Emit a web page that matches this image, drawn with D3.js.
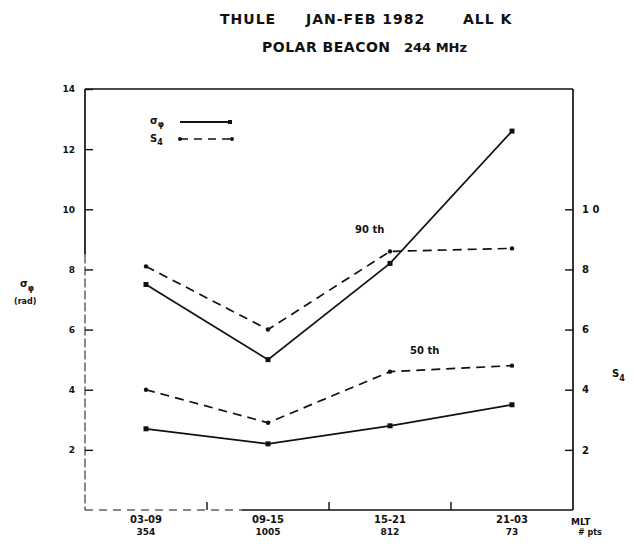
<!DOCTYPE html>
<html><head><meta charset="utf-8">
<script src="https://cdn.jsdelivr.net/npm/d3@7"></script>
<style>
body{margin:0;background:#fff;}
text{font-family:"DejaVu Sans",sans-serif;font-weight:bold;fill:#111;}
</style>
</head><body>
<svg id="c" width="634" height="550"></svg>
<script>
// ---- data ----
const categories = ["03-09","09-15","15-21","21-03"];
const pointCounts = ["354","1005","812","73"];
const sigmaPhi90 = [7.5, 5.0, 8.2, 12.6];
const s4_90 = [8.1, 6.0, 8.6, 8.7];
const s4_50 = [4.0, 2.9, 4.6, 4.8];
const sigmaPhi50 = [2.7, 2.2, 2.8, 3.5];
const leftTicks = [2, 4, 6, 8, 10, 12, 14];
const rightTicks = [2, 4, 6, 8, 10];

const svg = d3.select("#c");
const L = 85, R = 573, T = 89, B = 510;

const x = d3.scaleBand().domain(categories).range([L, R]);
const cx = c => x(c) + x.bandwidth() / 2;
const y = d3.scaleLinear().domain([0, 14]).range([B, T]);

// title
const title = (tx, px, py, fs, ls) => svg.append("text").attr("x", px).attr("y", py)
  .style("font-size", fs + "px").style("letter-spacing", ls + "px").text(tx);
title("THULE", 220, 24, 14, 1);
title("JAN-FEB 1982", 306, 24, 14, 1);
title("ALL K", 463, 24, 14, 1);
title("POLAR BEACON", 262, 52, 14, 0.5);
title("244 MHz", 404, 52, 13, 0);

// frame
const frame = svg.append("g").attr("fill", "none").attr("stroke", "#111").attr("stroke-width", 1.7);
frame.append("line").attr("x1", L).attr("x2", R).attr("y1", T).attr("y2", T);
frame.append("line").attr("x1", R).attr("x2", R).attr("y1", T).attr("y2", B);
frame.append("line").attr("x1", L).attr("x2", L).attr("y1", T).attr("y2", y(8.5));
frame.append("line").attr("x1", L).attr("x2", L).attr("y1", y(8.5)).attr("y2", B).attr("stroke-width", 1).attr("stroke-dasharray", "9,3");
frame.append("line").attr("x1", L).attr("x2", x(categories[1]) + 35).attr("y1", B).attr("y2", B).attr("stroke-width", 1).attr("stroke-dasharray", "8,6");
frame.append("line").attr("x1", x(categories[1]) + 35).attr("x2", R).attr("y1", B).attr("y2", B);

// left axis
const ga = svg.append("g").attr("transform", `translate(${L},0)`)
  .call(d3.axisLeft(y).tickValues(leftTicks).tickSize(-8).tickPadding(10));
ga.select(".domain").remove();
ga.selectAll("line").attr("stroke", "#111").attr("stroke-width", 1.4);
ga.selectAll("text").style("font-size", "9px").style("font-family", "DejaVu Sans").style("font-weight", "bold");

// right axis
const gr = svg.append("g").attr("transform", `translate(${R},0)`)
  .call(d3.axisRight(y).tickValues(rightTicks).tickSize(-8).tickPadding(9)
        .tickFormat(d => d === 10 ? "1 0" : d));
gr.select(".domain").remove();
gr.selectAll("line").attr("stroke", "#111").attr("stroke-width", 1.4);
gr.selectAll("text").style("font-size", "10px").style("font-family", "DejaVu Sans").style("font-weight", "bold");

// bottom boundary ticks
svg.append("g").selectAll("line").data(categories.slice(1)).join("line")
  .attr("x1", d => x(d)).attr("x2", d => x(d)).attr("y1", B).attr("y2", B - 8)
  .attr("stroke", "#111").attr("stroke-width", 1.4);

// bottom labels
const gb = svg.append("g").attr("transform", `translate(0,${B})`)
  .call(d3.axisBottom(x).tickSize(0).tickPadding(6));
gb.select(".domain").remove();
gb.selectAll("text").style("font-size", "10px").style("font-family", "DejaVu Sans").style("font-weight", "bold");
svg.append("g").selectAll("text").data(pointCounts).join("text")
  .attr("x", (d, i) => cx(categories[i])).attr("y", B + 25).attr("text-anchor", "middle")
  .style("font-size", "9px").text(d => d);
svg.append("text").attr("x", R - 2).attr("y", B + 15).style("font-size", "9px").text("MLT");
svg.append("text").attr("x", R + 5).attr("y", B + 25).style("font-size", "8px").text("# pts");

// axis titles
const lt = svg.append("text").attr("x", 20).attr("y", 287).style("font-size", "10px");
lt.append("tspan").text("σ");
lt.append("tspan").attr("dy", 4).style("font-size", "8px").text("φ");
svg.append("text").attr("x", 14).attr("y", 304).style("font-size", "8px").text("(rad)");
const rt = svg.append("text").attr("x", 612).attr("y", 377).style("font-size", "10px");
rt.append("tspan").text("S");
rt.append("tspan").attr("dy", 4).style("font-size", "8px").text("4");

// series
const line = d3.line().x((d, i) => cx(categories[i])).y(d => y(d));
const series = [
  {v: sigmaPhi90, dash: null, mark: "sq"},
  {v: sigmaPhi50, dash: null, mark: "sq"},
  {v: s4_90, dash: "9,6", mark: "dot"},
  {v: s4_50, dash: "9,6", mark: "dot"}
];
series.forEach(s => {
  svg.append("path").datum(s.v).attr("d", line).attr("fill", "none")
    .attr("stroke", "#111").attr("stroke-width", 1.7)
    .attr("stroke-dasharray", s.dash);
  const g = svg.append("g");
  if (s.mark === "sq") {
    g.selectAll("rect").data(s.v).join("rect")
      .attr("x", (d, i) => cx(categories[i]) - 2.5).attr("y", d => y(d) - 2.5)
      .attr("width", 5).attr("height", 5).attr("fill", "#111");
  } else {
    g.selectAll("circle").data(s.v).join("circle")
      .attr("cx", (d, i) => cx(categories[i])).attr("cy", d => y(d)).attr("r", 2.2).attr("fill", "#111");
  }
});

// annotations
svg.append("text").attr("x", cx("15-21") - 35).attr("y", y(9.2)).style("font-size", "10px").text("90 th");
svg.append("text").attr("x", cx("15-21") + 20).attr("y", y(5.2)).style("font-size", "10px").text("50 th");

// legend
const lg = svg.append("g");
const l1 = lg.append("text").attr("x", 150).attr("y", 124).style("font-size", "10px");
l1.append("tspan").text("σ"); l1.append("tspan").attr("dy", 3).style("font-size", "8px").text("φ");
const l2 = lg.append("text").attr("x", 150).attr("y", 142).style("font-size", "10px");
l2.append("tspan").text("S"); l2.append("tspan").attr("dy", 3).style("font-size", "8px").text("4");
lg.append("line").attr("x1", 180).attr("x2", 232).attr("y1", 122).attr("y2", 122).attr("stroke", "#111").attr("stroke-width", 2);
lg.append("rect").attr("x", 228).attr("y", 120).attr("width", 4).attr("height", 4).attr("fill", "#111");
lg.append("line").attr("x1", 180).attr("x2", 232).attr("y1", 139).attr("y2", 139).attr("stroke", "#111").attr("stroke-width", 1.6).attr("stroke-dasharray", "8,6");
lg.append("circle").attr("cx", 180).attr("cy", 139).attr("r", 2).attr("fill", "#111");
lg.append("circle").attr("cx", 232).attr("cy", 139).attr("r", 2).attr("fill", "#111");
</script>
</body></html>
